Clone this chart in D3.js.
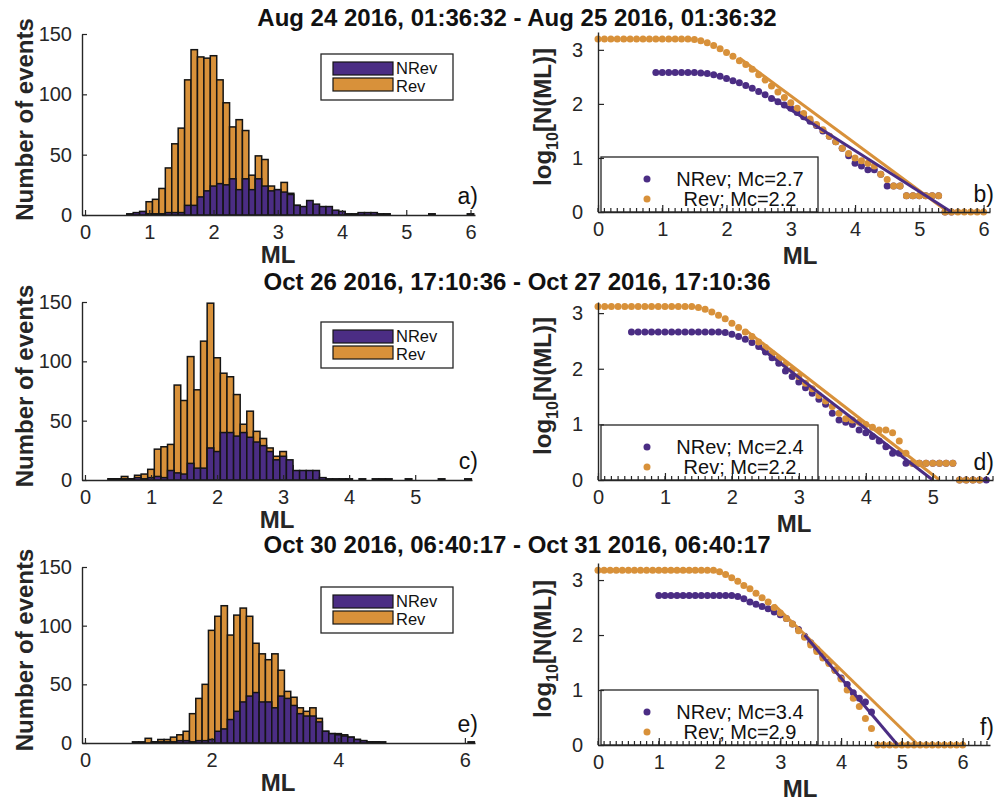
<!DOCTYPE html>
<html>
<head>
<meta charset="utf-8">
<script src="https://cdn.jsdelivr.net/npm/d3@7"></script>
<style>
  body { margin: 0; background: #fff; }
  svg { display: block; font-family: "Liberation Sans", Arial, Helvetica, sans-serif; }
</style>
</head>
<body>
<svg id="chart" width="995" height="801"></svg>
<script>
// ---- data ----
const titles = [
    'Aug 24 2016, 01:36:32 - Aug 25 2016, 01:36:32',
    'Oct 26 2016, 17:10:36 - Oct 27 2016, 17:10:36',
    'Oct 30 2016, 06:40:17 - Oct 31 2016, 06:40:17'
];
const seriesNames = ['NRev', 'Rev'];

// histograms: counts per 0.1 ML bin, first bin centre given by *Start
const histStartA = 0.7;
const histRevA  = [0, 1, 2, 11, 13, 22, 39, 59, 72, 112, 137, 131, 130, 132, 112, 93, 73, 79, 70, 33, 49, 46, 24, 21, 27, 18, 8, 6, 5, 4, 3, 2, 1, 1, 0, 0, 0, 0, 0, 0, 0, 0, 0, 0, 0, 0, 0, 1, 0, 0, 0, 0, 0, 1];
const histNRevA = [1, 2, 3, 1, 1, 1, 2, 2, 2, 8, 8, 15, 20, 24, 26, 25, 30, 21, 30, 21, 30, 24, 20, 21, 19, 17, 8, 7, 12, 9, 7, 7, 4, 3, 1, 1, 2, 2, 2, 1, 1];

const histStartC = 0.4;
const histRevC  = [1, 1, 3, 1, 4, 5, 9, 26, 28, 30, 80, 67, 104, 76, 117, 149, 103, 90, 87, 72, 47, 58, 41, 35, 27, 20, 24, 12, 5, 5, 5, 5, 1];
const histNRevC = [1, 1, 1, 1, 2, 1, 2, 3, 2, 8, 6, 5, 14, 10, 10, 27, 24, 40, 40, 37, 40, 36, 32, 29, 24, 17, 20, 17, 8, 8, 8, 8, 2, 1, 1, 1, 1, 0, 1, 0, 1, 1, 1, 0, 0, 1, 0, 0, 0, 0, 1, 0, 0, 0, 1];

const histStartE = 0.8;
const histRevE  = [1, 1, 4, 1, 3, 3, 5, 7, 10, 25, 38, 50, 96, 108, 117, 92, 109, 115, 108, 85, 76, 71, 76, 62, 44, 39, 30, 27, 30, 21, 10, 8, 8, 7, 5, 3, 2, 1, 1];
const histNRevE = [0, 0, 0, 1, 1, 1, 1, 2, 2, 1, 2, 2, 3, 10, 12, 20, 27, 35, 40, 43, 35, 35, 30, 40, 38, 32, 25, 23, 23, 18, 10, 8, 7, 6, 5, 3, 2, 1, 1, 1, 0, 0, 0, 0, 0, 0, 0, 0, 0, 0, 0, 0, 0, 1];

// cumulative log10 N(>=ML), one value per 0.1 ML step from *Start
const cumRevStartB = 0.0;
const cumRevB = [3.2, 3.2, 3.2, 3.2, 3.2, 3.2, 3.2, 3.2, 3.2, 3.2, 3.2, 3.2, 3.2, 3.2, 3.2,
    3.19, 3.17, 3.13, 3.08, 3.02, 2.95, 2.88, 2.80, 2.73, 2.64, 2.54, 2.44, 2.33, 2.22, 2.12,
    2.02, 1.92, 1.82, 1.72, 1.62, 1.52, 1.40, 1.30, 1.18, 1.08, 1.0, 0.95, 0.9, 0.85, 0.7,
    0.6, 0.48, 0.48, 0.3, 0.3, 0.3, 0.3, 0.3, 0.3, 0, 0, 0, 0, 0, 0, 0];
const cumNRevStartB = 0.9;
const cumNRevB = [2.58, 2.58, 2.58, 2.58, 2.58, 2.58, 2.58, 2.57, 2.56, 2.54, 2.51, 2.47, 2.43, 2.39,
    2.34, 2.29, 2.23, 2.17, 2.1, 2.04, 1.98, 1.92, 1.84, 1.76, 1.68, 1.6, 1.5, 1.4, 1.3, 1.18,
    1.04, 0.9, 0.85, 0.78, 0.78, 0.7, 0.48, 0.48, 0.48, 0.3, 0.3, 0.3, 0.3, 0.3, 0.3, 0, 0];
const fitRevB  = [[2.2, 2.85], [5.45, 0]];
const fitNRevB = [[2.7, 2.12], [5.5, 0]];
const mcLabelsB = ['NRev; Mc=2.7', 'Rev; Mc=2.2'];

const cumRevStartD = 0.0;
const cumRevD = [3.12, 3.12, 3.12, 3.12, 3.12, 3.12, 3.12, 3.12, 3.12, 3.12, 3.12, 3.12, 3.12, 3.12, 3.12,
    3.1, 3.07, 3.02, 2.96, 2.9, 2.82, 2.74, 2.66, 2.58, 2.48, 2.38, 2.28, 2.18, 2.08, 1.98,
    1.86, 1.74, 1.64, 1.52, 1.42, 1.32, 1.2, 1.1, 1.08, 1.04, 1.0, 0.95, 0.9, 0.9, 0.85,
    0.7, 0.48, 0.3, 0.3, 0.3, 0.3, 0.3, 0.3, 0.3, 0, 0, 0, 0];
const cumNRevStartD = 0.5;
const cumNRevD = [2.66, 2.66, 2.66, 2.66, 2.66, 2.66, 2.66, 2.66, 2.66, 2.66, 2.66, 2.66, 2.66, 2.66,
    2.65, 2.62, 2.58, 2.53, 2.47, 2.4, 2.3, 2.2, 2.1, 1.96, 1.86, 1.76, 1.66, 1.56, 1.45, 1.36,
    1.2, 1.08, 1.04, 1.0, 0.9, 0.85, 0.78, 0.7, 0.6, 0.48, 0.48, 0.3, 0.3, 0.3, 0.3, 0.3, 0.3,
    0.3, 0.3, 0, 0, 0, 0, 0];
const fitRevD  = [[2.2, 2.7], [5.1, 0]];
const fitNRevD = [[2.4, 2.4], [5.0, 0]];
const mcLabelsD = ['NRev; Mc=2.4', 'Rev; Mc=2.2'];

const cumRevStartF = 0.0;
const cumRevF = [3.18, 3.18, 3.18, 3.18, 3.18, 3.18, 3.18, 3.18, 3.18, 3.18, 3.18, 3.18, 3.18, 3.18, 3.18,
    3.18, 3.18, 3.18, 3.18, 3.18, 3.15, 3.1, 3.04, 2.98, 2.9, 2.84, 2.76, 2.68, 2.6, 2.5,
    2.4, 2.3, 2.2, 2.08, 1.96, 1.82, 1.7, 1.58, 1.48, 1.36, 1.2, 1.0, 0.85, 0.7, 0.48,
    0.3, 0, 0, 0, 0, 0, 0, 0, 0, 0, 0, 0, 0, 0, 0, 0];
const cumNRevStartF = 1.0;
const cumNRevF = [2.72, 2.72, 2.72, 2.72, 2.72, 2.72, 2.72, 2.72, 2.72, 2.72, 2.72, 2.72, 2.72,
    2.7, 2.66, 2.6, 2.56, 2.52, 2.48, 2.42, 2.37, 2.3, 2.2, 2.1, 1.98, 1.86, 1.74, 1.62, 1.5,
    1.36, 1.22, 1.1, 0.95, 0.85, 0.78, 0.6];
const fitRevF  = [[2.9, 2.55], [5.27, 0]];
const fitNRevF = [[3.4, 2.0], [4.93, 0]];
const mcLabelsF = ['NRev; Mc=3.4', 'Rev; Mc=2.9'];

const histTicksA = [0, 1, 2, 3, 4, 5, 6];
const histTicksC = [0, 1, 2, 3, 4, 5];
const histTicksE = [0, 2, 4, 6];
const histYTicks = [0, 50, 100, 150];
const cumXTicksB = [0, 1, 2, 3, 4, 5, 6];
const cumXTicksD = [0, 1, 2, 3, 4, 5];
const cumXTicksF = [0, 1, 2, 3, 4, 5, 6];
const cumYTicks = [0, 1, 2, 3];

// ---- layout & style ----
const purple = '#4b2d84';
const orange = '#d8913a';
const ink = '#262626';
const edge = '#141414';

const svg = d3.select('#chart');

const rows = [
    {
        title: titles[0], titleY: 26,
        hist: { left: 82, right: 475, top: 34, bottom: 215, xDomain: [-0.047, 6.07], ticks: histTicksA,
                start: histStartA, rev: histRevA, nrev: histNRevA, tag: 'a)', mlX: 278 },
        cum: { left: 598, right: 990, top: 32, bottom: 212, xDomain: [0, 6.1], yMax: 3.33, ticks: cumXTicksB,
               revStart: cumRevStartB, rev: cumRevB, nrevStart: cumNRevStartB, nrev: cumNRevB,
               fitRev: fitRevB, fitNRev: fitNRevB, labels: mcLabelsB, tag: 'b)', mlX: 800 }
    },
    {
        title: titles[1], titleY: 290,
        hist: { left: 82, right: 472, top: 302, bottom: 480, xDomain: [-0.045, 5.86], ticks: histTicksC,
                start: histStartC, rev: histRevC, nrev: histNRevC, tag: 'c)', mlX: 277 },
        cum: { left: 598, right: 993, top: 302, bottom: 480, xDomain: [0, 5.9], yMax: 3.2, ticks: cumXTicksD,
               revStart: cumRevStartD, rev: cumRevD, nrevStart: cumNRevStartD, nrev: cumNRevD,
               fitRev: fitRevD, fitNRev: fitNRevD, labels: mcLabelsD, tag: 'd)', mlX: 794 }
    },
    {
        title: titles[2], titleY: 553,
        hist: { left: 82, right: 475, top: 567, bottom: 743, xDomain: [-0.047, 6.16], ticks: histTicksE,
                start: histStartE, rev: histRevE, nrev: histNRevE, tag: 'e)', mlX: 278 },
        cum: { left: 598, right: 990, top: 563, bottom: 745, xDomain: [0, 6.45], yMax: 3.31, ticks: cumXTicksF,
               revStart: cumRevStartF, rev: cumRevF, nrevStart: cumNRevStartF, nrev: cumNRevF,
               fitRev: fitRevF, fitNRev: fitNRevF, labels: mcLabelsF, tag: 'f)', mlX: 800 }
    }
];

function styleAxis(g, fontSize) {
    g.select('.domain').attr('stroke', ink).attr('stroke-width', 1.4);
    g.selectAll('.tick line').attr('stroke', ink).attr('stroke-width', 1.2);
    g.selectAll('.tick text').attr('fill', ink).attr('font-size', fontSize);
    g.attr('font-family', null);
}

function toSteps(start, values) {
    return values.map((v, i) => ({ ml: +(start + i * 0.1).toFixed(2), v: v }));
}

function drawHist(c) {
    const x = d3.scaleLinear().domain(c.xDomain).range([c.left, c.right]);
    const y = d3.scaleLinear().domain([0, 150]).range([c.bottom, c.top]);
    const g = svg.append('g');
    const binW = x(0.1) - x(0);

    [[c.rev, orange], [c.nrev, purple]].forEach(([counts, color]) => {
        g.append('g').selectAll('rect')
            .data(toSteps(c.start, counts).filter(d => d.v > 0))
            .enter().append('rect')
            .attr('x', d => x(d.ml - 0.05))
            .attr('width', binW)
            .attr('y', d => y(d.v))
            .attr('height', d => y(0) - y(d.v))
            .attr('fill', color)
            .attr('stroke', edge)
            .attr('stroke-width', 1.5);
    });

    const xa = g.append('g').attr('transform', `translate(0,${c.bottom})`)
        .call(d3.axisBottom(x).tickValues(c.ticks).tickSize(-5).tickSizeOuter(0).tickPadding(10).tickFormat(d3.format('d')));
    styleAxis(xa, 20);
    const ya = g.append('g').attr('transform', `translate(${c.left},0)`)
        .call(d3.axisLeft(y).tickValues(histYTicks).tickSize(-5).tickSizeOuter(0).tickPadding(10));
    styleAxis(ya, 20);

    g.append('text').attr('x', c.mlX).attr('y', c.bottom + 48)
        .attr('text-anchor', 'middle').attr('font-weight', 'bold').attr('font-size', 24).attr('fill', ink)
        .text('ML');
    g.append('text').attr('transform', `translate(33,${(c.top + c.bottom) / 2 - 5}) rotate(-90)`)
        .attr('text-anchor', 'middle').attr('font-weight', 'bold').attr('font-size', 24).attr('fill', ink)
        .text('Number of events');
    g.append('text').attr('x', 478).attr('y', c.bottom - 11)
        .attr('text-anchor', 'end').attr('font-size', 23).attr('fill', '#111')
        .text(c.tag);

    // legend
    const lt = c.top + 20;
    const lg = g.append('g');
    lg.append('rect').attr('x', 321).attr('y', lt).attr('width', 132).attr('height', 46)
        .attr('fill', '#fff').attr('stroke', ink).attr('stroke-width', 1.3);
    [purple, orange].forEach((color, i) => {
        lg.append('rect').attr('x', 333).attr('y', lt + 8 + i * 16).attr('width', 60).attr('height', 13)
            .attr('fill', color).attr('stroke', edge).attr('stroke-width', 1.2);
        lg.append('text').attr('x', 396).attr('y', lt + 20 + i * 17.5)
            .attr('font-size', 16.5).attr('fill', '#111').text(seriesNames[i]);
    });
}

function drawCum(c) {
    const x = d3.scaleLinear().domain(c.xDomain).range([c.left, c.right]);
    const y = d3.scaleLinear().domain([0, c.yMax]).range([c.bottom, c.top]);
    const g = svg.append('g');

    [[toSteps(c.nrevStart, c.nrev), purple], [toSteps(c.revStart, c.rev), orange]].forEach(([pts, color]) => {
        g.append('g').selectAll('circle').data(pts).enter().append('circle')
            .attr('cx', d => x(d.ml)).attr('cy', d => y(d.v)).attr('r', 3.5)
            .attr('fill', color);
    });

    const line = d3.line().x(d => x(d[0])).y(d => y(d[1]));
    [[c.fitRev, orange], [c.fitNRev, purple]].forEach(([seg, color]) => {
        g.append('path').attr('d', line(seg)).attr('fill', 'none')
            .attr('stroke', color).attr('stroke-width', 3);
    });

    // legend
    const lg = g.append('g');
    lg.append('rect').attr('x', 601).attr('y', c.bottom - 55).attr('width', 217).attr('height', 55)
        .attr('fill', '#fff').attr('stroke', ink).attr('stroke-width', 1.3);
    [purple, orange].forEach((color, i) => {
        lg.append('circle').attr('cx', 647).attr('cy', c.bottom - 33 + i * 20).attr('r', 3.5).attr('fill', color);
        lg.append('text').attr('x', 740).attr('y', c.bottom - 26 + i * 20)
            .attr('text-anchor', 'middle').attr('font-size', 20).attr('fill', '#111').text(c.labels[i]);
    });

    // minor ticks every 0.1 along the x axis
    g.append('g').selectAll('line')
        .data(d3.range(0, c.xDomain[1] + 1e-6, 0.1))
        .enter().append('line')
        .attr('x1', d => x(d)).attr('x2', d => x(d))
        .attr('y1', c.bottom).attr('y2', c.bottom - 4)
        .attr('stroke', ink).attr('stroke-width', 1.2);

    const xa = g.append('g').attr('transform', `translate(0,${c.bottom})`)
        .call(d3.axisBottom(x).tickValues(c.ticks).tickSize(-7).tickSizeOuter(0).tickPadding(10).tickFormat(d3.format('d')));
    styleAxis(xa, 20);
    const ya = g.append('g').attr('transform', `translate(${c.left},0)`)
        .call(d3.axisLeft(y).tickValues(cumYTicks).tickSize(-6).tickSizeOuter(0).tickPadding(15).tickFormat(d3.format('d')));
    styleAxis(ya, 20);

    g.append('text').attr('x', c.mlX).attr('y', c.bottom + 52)
        .attr('text-anchor', 'middle').attr('font-weight', 'bold').attr('font-size', 24).attr('fill', ink)
        .text('ML');
    const yl = g.append('text').attr('transform', `translate(551,${(c.top + c.bottom) / 2 - 5}) rotate(-90)`)
        .attr('text-anchor', 'middle').attr('font-weight', 'bold').attr('font-size', 24).attr('fill', ink);
    yl.append('tspan').text('log');
    yl.append('tspan').attr('font-size', 16).attr('dy', 7).text('10');
    yl.append('tspan').attr('dy', -7).text('[N(ML)]');

    g.append('text').attr('x', 994).attr('y', c.bottom - 10)
        .attr('text-anchor', 'end').attr('font-size', 23).attr('fill', '#111')
        .text(c.tag);
}

rows.forEach(r => {
    drawHist(r.hist);
    drawCum(r.cum);
    svg.append('text').attr('x', 517).attr('y', r.titleY)
        .attr('text-anchor', 'middle').attr('font-weight', 'bold').attr('font-size', 24).attr('fill', '#111')
        .text(r.title);
});
</script>
</body>
</html>
